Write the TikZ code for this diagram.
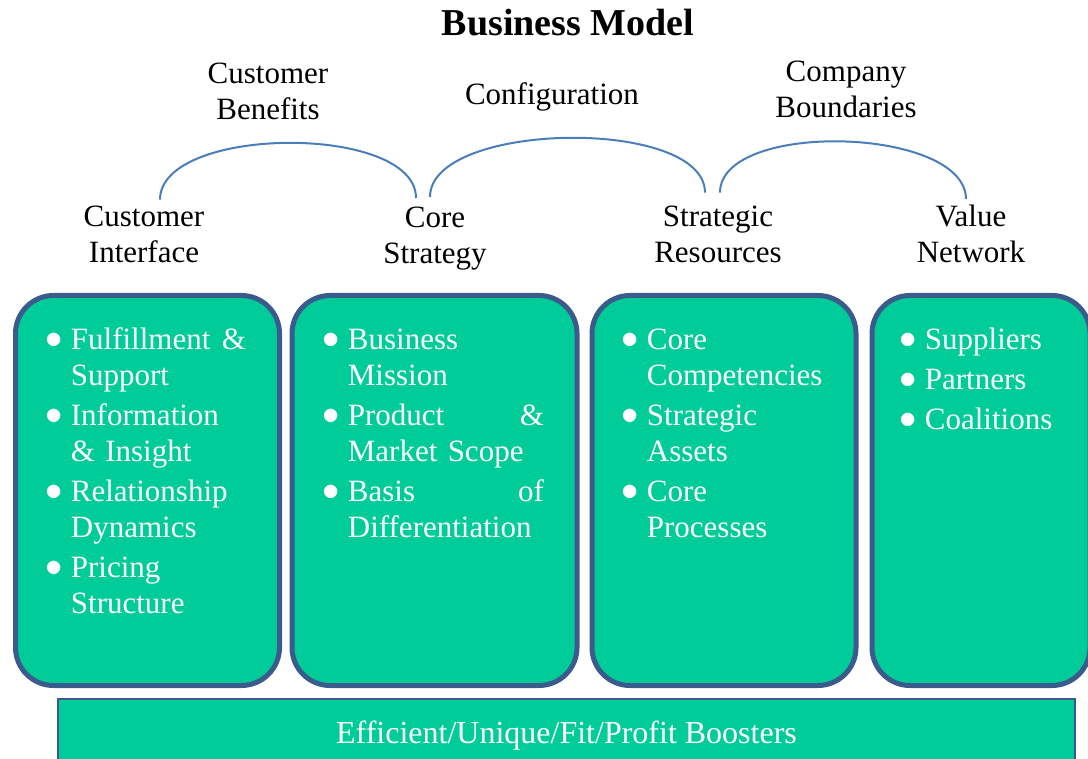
\documentclass[tikz,border=0pt]{standalone}
\usepackage{fontspec}
\setmainfont{Liberation Serif}
\usetikzlibrary{positioning}

\definecolor{panelgreen}{RGB}{0,204,153}
\definecolor{paneledge}{RGB}{59,91,140}
\definecolor{archblue}{RGB}{74,126,187}
\hyphenpenalty=10000
\newcommand{\bitem}[1]{\par\hangindent=11pt\hangafter=1\noindent
    \makebox[11pt][r]{\raisebox{0.3pt}{\fontsize{18}{18}\selectfont$\bullet$}\hspace{4pt}}\strut#1\par}

\begin{document}
\begin{tikzpicture}[x=0.5pt, y=0.5pt,
    panel/.style={draw=paneledge, line width=2.5pt, fill=panelgreen, rounded corners=19pt,
        outer sep=0pt, inner sep=0pt, anchor=north west, minimum height=195pt},
    items/.style={inner sep=0pt, text=white, font=\fontsize{15.5}{18}\selectfont,
        execute at begin node={\setlength{\parskip}{2pt}}},
    tag/.style={align=center, inner sep=0pt, font=\fontsize{15.5}{18}\selectfont},
    arch/.style={draw=archblue, line width=1pt, out=90, in=90},
    footer/.style={draw=paneledge, line width=1pt, fill=panelgreen, text=white, text depth=0pt,
        font=\fontsize{16}{18}\selectfont, minimum width=508.5pt, minimum height=33pt}]
    \useasboundingbox (0,0) rectangle (1088,-759);

    \node[font=\fontsize{19}{22}\selectfont\bfseries, inner sep=0pt] (title) at (568,-23) {Business Model};

    \node[tag] (cb) at (268,-91.5) {Customer\\Benefits};
    \node[tag] (cf) at (552,-97) {Configuration};
    \node[tag] (cbd) at (846,-89.5) {Company\\Boundaries};

    \node[tag] (ci) at (144,-234.5) {Customer\\Interface};
    \node[tag] (cs) at (435,-239) {Core\\Strategy};
    \node[tag] (sr) at (718,-234.5) {Strategic\\Resources};
    \node[tag] (vn) at (971,-233.5) {Value\\Network};

    \path[arch]
        ([xshift=8pt,yshift=3pt]ci.north) edge[looseness=0.745] ([xshift=-9.5pt,yshift=4.5pt]cs.north)
        ([xshift=-2.5pt,yshift=5pt]cs.north) edge[looseness=0.706] ([xshift=-6.5pt,yshift=6.5pt]sr.north)
        ([xshift=1pt,yshift=6.5pt]sr.north) edge[looseness=0.755] ([xshift=-2.5pt,yshift=2.5pt]vn.north);

    \node[panel, minimum width=132pt] (cibox) at (15.5,-295.5) {};
    \node[panel, minimum width=142.5pt] (csbox) [right=6.25pt of cibox] {};
    \node[panel, minimum width=132pt] (srbox) [right=7.5pt of csbox] {};
    \node[panel, minimum width=109pt] (vnbox) [right=8pt of srbox] {};

    \node[items, text width=98.5pt] (cilist) [below right=6.75pt and 16.5pt of cibox.north west]
        {\bitem{Fulfillment \hfill \&\newline Support}
         \bitem{Information\newline \& Insight}
         \bitem{Relationship\newline Dynamics}
         \bitem{Pricing\newline Structure}};
    \node[items, text width=109pt] (cslist) [below right=6.75pt and 16.75pt of csbox.north west]
        {\bitem{Business\newline Mission}
         \bitem{Product \hfill \&\newline Market Scope}
         \bitem{Basis \hfill of\newline Differentiation}};
    \node[items, text width=104pt] (srlist) [below right=6.75pt and 16.25pt of srbox.north west]
        {\bitem{Core\newline Competencies}
         \bitem{Strategic\newline Assets}
         \bitem{Core\newline Processes}};
    \node[items, text width=90pt] (vnlist) [below right=6.75pt and 15.25pt of vnbox.north west]
        {\bitem{Suppliers}
         \bitem{Partners}
         \bitem{Coalitions}};

    \node[footer] (boost) at (566.5,-732) {Efficient/Unique/Fit/Profit Boosters};
\end{tikzpicture}
\end{document}
